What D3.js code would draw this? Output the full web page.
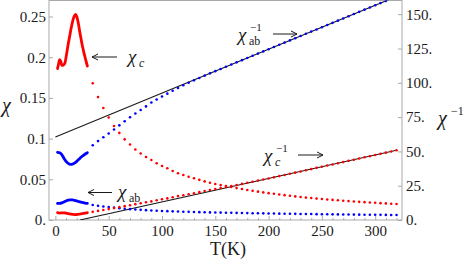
<!DOCTYPE html>
<html>
<head>
<meta charset="utf-8">
<style>
body { margin: 0; background: #fff; }
text { fill: #1a1a1a; }
.frame { fill: none; stroke: #aaa; stroke-width: 1px; }
.tick line { stroke: #aaa; }
.fit { fill: none; stroke: #1a1a1a; stroke-width: 1.1px; }
.arrow { fill: none; stroke: #1a1a1a; stroke-width: 1px; }
</style>
<title></title>
</head>
<body>
<script src="https://d3js.org/d3.v7.min.js"></script>
<script>

// low temperature, measured densely (drawn as solid curves)
var tLowC = [2,3,4,5,6,7,8,9,10,11,12,13,14,15,16,17,18,19,20,21,22,23,24,25,26,27,28,29,30];
var chiCLow = [0.186,0.192,0.197,0.195,0.190,0.190,0.191,0.193,0.200,0.208,0.216,0.223,0.230,0.237,0.243,
  0.248,0.251,0.2527,0.250,0.245,0.238,0.230,0.223,0.216,0.210,0.204,0.199,0.194,0.189];
var invCLow = [5.38,5.21,5.08,5.13,5.26,5.26,5.24,5.18,5.00,4.81,4.63,4.48,4.35,4.22,4.12,
  4.03,3.98,3.96,4.00,4.08,4.20,4.35,4.48,4.63,4.76,4.90,5.03,5.15,5.29];

var tLowAb = [2,4,6,8,10,12,14,16,18,20,22,24,26,28,30];
var chiAbLow = [0.0203,0.0204,0.0210,0.0222,0.0234,0.0243,0.0247,0.0246,0.0241,0.0234,0.0226,0.0219,0.0213,0.0208,0.0204];
var invAbLow = [49.3,49.0,47.6,45.0,42.7,41.2,40.5,40.7,41.5,42.7,44.2,45.7,46.9,48.1,49.0];

// higher temperature, every 5 K (drawn as dots)
var tHigh = [35,40,45,50,55,60,65,70,75,80,85,90,95,100,105,110,115,120,125,130,135,140,145,150,155,160,
  165,170,175,180,185,190,195,200,205,210,215,220,225,230,235,240,245,250,255,260,265,270,275,280,285,
  290,295,300,305,310,315,320];
var chiCHigh = [0.168,0.151,0.1376,0.126,0.1155,0.107,0.0991,0.0928,0.0866,0.0817,0.0774,0.0737,0.0697,0.0663,
  0.0635,0.0602,0.0574,0.0553,0.0532,0.0513,0.0493,0.0474,0.0457,0.0442,0.0429,0.0417,0.0405,0.0392,0.0380,
  0.0369,0.0358,0.0348,0.0339,0.0330,0.0322,0.0313,0.0305,0.0297,0.0290,0.0282,0.0275,0.0270,0.0263,0.0258,
  0.0252,0.0247,0.0242,0.0237,0.0232,0.0228,0.0223,0.0219,0.0215,0.0211,0.0207,0.0204,0.0200,0.0197];
var invCHigh = [5.95,6.62,7.27,7.94,8.66,9.35,10.09,10.78,11.55,12.24,12.92,13.57,14.35,15.08,15.75,16.61,
  17.42,18.08,18.8,19.5,20.3,21.1,21.9,22.6,23.3,24.0,24.7,25.5,26.3,27.1,27.9,28.7,29.5,30.3,31.1,32.0,
  32.8,33.7,34.5,35.4,36.3,37.1,38.0,38.8,39.7,40.5,41.4,42.2,43.1,43.9,44.8,45.7,46.5,47.4,48.2,49.1,49.9,50.8];
var chiAbHigh = [0.01835,0.01739,0.01658,0.01585,0.01515,0.01449,0.01389,0.01335,0.01289,0.01247,0.01208,
  0.01168,0.01139,0.01111,0.01086,0.01062,0.01040,0.01018,0.01000,0.00982,0.00966,0.00951,0.00935,0.00922,
  0.00908,0.00895,0.00883,0.00870,0.00858,0.00847,0.00835,0.00824,0.00814,0.00803,0.00793,0.00783,0.00773,
  0.00764,0.00755,0.00746,0.00737,0.00728,0.00720,0.00712,0.00704,0.00696,0.00688,0.00681,0.00673,0.00666,
  0.00659,0.00652,0.00646,0.00639,0.00632,0.00626,0.00620,0.00614];
var invAbHigh = [54.5,57.5,60.3,63.1,66.0,69.0,72.0,74.9,77.6,80.2,82.8,85.6,87.8,90.0,92.1,94.2,96.2,98.2,
  100.0,101.8,103.5,105.2,106.9,108.5,110.1,111.7,113.3,114.9,116.5,118.1,119.7,121.3,122.9,124.5,126.1,
  127.7,129.3,130.9,132.5,134.1,135.7,137.3,138.9,140.5,142.1,143.7,145.3,146.9,148.5,150.1,151.7,153.3,
  154.9,156.5,158.1,159.7,161.3,162.9];

// Curie-Weiss fits of the inverse susceptibility
var fitAbT = [0, 325], fitAbInv = [60.5, 164.5];
var fitCT = [23, 320], fitCInv = [0, 50.8];

var xTicks = [0,50,100,150,200,250,300];
var xMinor = [10,20,30,40,60,70,80,90,110,120,130,140,160,170,180,190,210,220,230,240,260,270,280,290,310,320];
var chiTicks = [0,0.05,0.1,0.15,0.2,0.25];
var invTicks = [0,25,50,75,100,125,150];

var width = 469, height = 261;
var plotL = 49, plotR = 402, plotT = 0.5, plotB = 220;
var serif = '"Liberation Serif"';

var svg = d3.select("body").append("svg")
    .attr("width", width)
    .attr("height", height);

var x = d3.scaleLinear().domain([0, 300]).range([55.4, 375.2]);
var yChi = d3.scaleLinear().domain([0, 0.25]).range([plotB, 16.5]);
var yInv = d3.scaleLinear().domain([0, 150]).range([plotB, 14.2]);

svg.append("clipPath").attr("id", "plot")
  .append("rect")
    .attr("x", plotL).attr("y", plotT)
    .attr("width", plotR - plotL).attr("height", plotB - plotT);

// axes (ticks point inward)
svg.append("g")
    .attr("transform", "translate(0," + plotB + ")")
    .call(d3.axisBottom(x).tickValues(xTicks).tickSize(-4).tickPadding(5).tickFormat(d3.format("d")));
svg.append("g")
    .attr("transform", "translate(0," + plotB + ")")
    .call(d3.axisBottom(x).tickValues(xMinor).tickSize(-2).tickFormat(""));

svg.append("g")
    .attr("transform", "translate(" + plotL + ",0)")
    .call(d3.axisLeft(yChi).tickValues(chiTicks).tickSize(-4).tickPadding(3)
      .tickFormat(function(d) { return d === 0 ? "0." : String(+d.toFixed(2)); }));

svg.append("g")
    .attr("transform", "translate(" + plotR + ",0)")
    .call(d3.axisRight(yInv).tickValues(invTicks).tickSize(-4).tickPadding(4)
      .tickFormat(function(d) { return d + "."; }));

svg.selectAll(".domain").remove();
svg.selectAll(".tick text").style("font-size", "15px").attr("fill", "#1a1a1a");

svg.append("rect")
    .attr("class", "frame")
    .attr("x", plotL).attr("y", plotT)
    .attr("width", plotR - plotL).attr("height", plotB - plotT);

var plot = svg.append("g").attr("clip-path", "url(#plot)");

// fit lines
function fitLine(ts, vs) {
  plot.append("path")
    .attr("class", "fit")
    .attr("d", d3.line()(ts.map(function(t, i) { return [x(t), yInv(vs[i])]; })));
}
fitLine(fitAbT, fitAbInv);
fitLine(fitCT, fitCInv);

function solid(ts, vs, y, color) {
  plot.append("path")
    .attr("fill", "none")
    .attr("stroke", color)
    .attr("stroke-width", 2.8)
    .attr("stroke-linejoin", "round")
    .attr("stroke-linecap", "round")
    .attr("d", d3.line().curve(d3.curveMonotoneX)(ts.map(function(t, i) { return [x(t), y(vs[i])]; })));
}

function dots(ts, vs, y, color) {
  plot.append("g").selectAll("circle")
    .data(ts)
    .enter().append("circle")
    .attr("cx", function(t) { return x(t); })
    .attr("cy", function(t, i) { return y(vs[i]); })
    .attr("r", 1.3)
    .attr("fill", color);
}

solid(tLowC, chiCLow, yChi, "#f00");
solid(tLowC, invCLow, yInv, "#f00");
solid(tLowAb, chiAbLow, yChi, "#00f");
solid(tLowAb, invAbLow, yInv, "#00f");

dots(tHigh, invAbHigh, yInv, "#00f");
dots(tHigh, chiAbHigh, yChi, "#00f");
dots(tHigh, invCHigh, yInv, "#f00");
dots(tHigh, chiCHigh, yChi, "#f00");

// axis labels
svg.append("text")
    .attr("x", 228).attr("y", 255)
    .attr("text-anchor", "middle")
    .style("font-size", "18px")
    .text("T(K)");

svg.append("text")
    .attr("x", 2).attr("y", 112)
    .style("font-size", "20px").style("font-style", "italic")
    .text("χ");

svg.append("text")
    .attr("x", 438).attr("y", 125)
    .style("font-size", "20px").style("font-style", "italic")
    .text("χ");
svg.append("text")
    .attr("x", 451).attr("y", 115).style("font-size", "12px").text("−1");

// annotations
function arrow(x1, x2, y) {
  var d = x2 > x1 ? 1 : -1;
  svg.append("path")
    .attr("class", "arrow")
    .attr("d", "M" + x1 + "," + y + "H" + x2 +
      "M" + (x2 - d * 6) + "," + (y - 3) + "L" + x2 + "," + y + "L" + (x2 - d * 6) + "," + (y + 3));
}

function label(px, py, sub, subItalic, sup) {
  svg.append("text")
    .attr("x", px).attr("y", py)
    .style("font-size", "19px").style("font-style", "italic")
    .text("χ");
  var xs = px + 11;
  if (sup) {
    svg.append("text").attr("x", xs + 1).attr("y", py - 10).style("font-size", "11px").text(sup);
  }
  svg.append("text").attr("x", xs).attr("y", py + 4)
    .style("font-size", "12px")
    .style("font-style", subItalic ? "italic" : "normal")
    .text(sub);
}

arrow(117, 92, 57);
label(128, 63, "c", true, null);

arrow(112, 88, 192.5);
label(118, 198, "ab", false, null);

arrow(273, 297, 34);
label(238, 41, "ab", false, "−1");

arrow(298, 323, 155);
label(264, 162, "c", true, "−1");

// inline font on every text so no outer stylesheet can replace it
svg.selectAll("text").style("font-family", serif);

</script>
</body>
</html>
